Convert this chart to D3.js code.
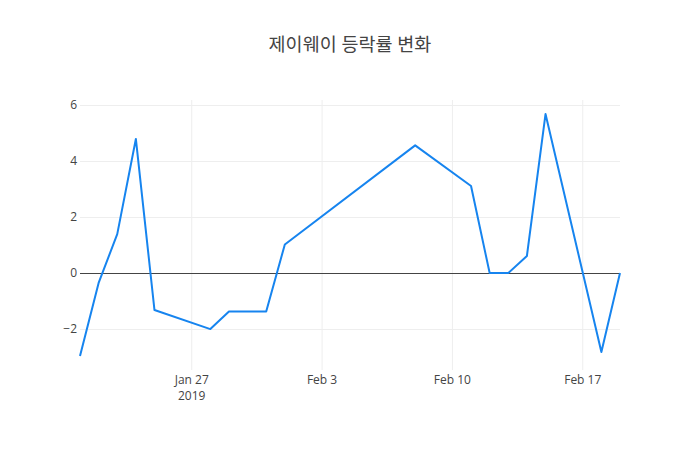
<!DOCTYPE html>
<html>
<head>
<meta charset="utf-8">
<script src="https://cdn.jsdelivr.net/npm/d3@7"></script>
<style>
    body { margin: 0; background: #fff; }
    text { font-family: "Open Sans", "Noto Sans CJK KR", sans-serif; }
</style>
</head>
<body>
<div id="chart"></div>
<script>
"use strict";

var dates = ["2019-01-21", "2019-01-22", "2019-01-23", "2019-01-24", "2019-01-25",
             "2019-01-28", "2019-01-29", "2019-01-31", "2019-02-01", "2019-02-08",
             "2019-02-11", "2019-02-12", "2019-02-13", "2019-02-14", "2019-02-15",
             "2019-02-18", "2019-02-19"],
    changes = [-2.96, -0.35, 1.39, 4.79, -1.32,
               -2.0, -1.37, -1.37, 1.02, 4.56,
               3.11, 0, 0, 0.61, 5.68,
               -2.82, 0],
    yTicks = [-2, 0, 2, 4, 6],
    xTicks = ["2019-01-27", "2019-02-03", "2019-02-10", "2019-02-17"],
    chartTitle = "제이웨이 등락률 변화";

var width = 700, height = 450,
    margin = {left: 80, right: 80, top: 100, bottom: 80},
    colors = {line: "#1684ef", grid: "#eeeeee", zero: "#444444", text: "#444444"};

var parse = d3.timeParse("%Y-%m-%d"),
    data = dates.map(function (d, i) { return {date: parse(d), val: changes[i]}; });

var svg = d3.select("#chart").append("svg")
    .attr("width", width)
    .attr("height", height);

var x = d3.scaleTime()
    .domain(d3.extent(data, function (d) { return d.date; }))
    .range([margin.left, width - margin.right]);

var ymin = d3.min(changes), ymax = d3.max(changes),
    pad = (ymax - ymin) * 0.058;
var y = d3.scaleLinear()
    .domain([ymin - pad, ymax + pad])
    .range([height - margin.bottom, margin.top]);

//grid lines
svg.append("g").selectAll("line.xg")
    .data(xTicks.map(parse))
    .enter().append("line")
    .attr("x1", function (d) { return x(d); })
    .attr("x2", function (d) { return x(d); })
    .attr("y1", margin.top)
    .attr("y2", height - margin.bottom)
    .attr("stroke", colors.grid)
    .attr("stroke-width", 1);

svg.append("g").selectAll("line.yg")
    .data(yTicks.filter(function (t) { return t !== 0; }))
    .enter().append("line")
    .attr("x1", margin.left)
    .attr("x2", width - margin.right)
    .attr("y1", function (d) { return Math.round(y(d)) + 0.5; })
    .attr("y2", function (d) { return Math.round(y(d)) + 0.5; })
    .attr("stroke", colors.grid)
    .attr("stroke-width", 1);

//zero line
svg.append("line")
    .attr("x1", margin.left)
    .attr("x2", width - margin.right)
    .attr("y1", Math.round(y(0)) + 0.5)
    .attr("y2", Math.round(y(0)) + 0.5)
    .attr("stroke", colors.zero)
    .attr("stroke-width", 1);

//y tick labels
svg.append("g").selectAll("text")
    .data(yTicks)
    .enter().append("text")
    .attr("x", margin.left - 3)
    .attr("y", function (d) { return y(d); })
    .attr("dy", "0.35em")
    .attr("text-anchor", "end")
    .attr("font-size", 12)
    .attr("fill", colors.text)
    .text(function (d) { return d < 0 ? "\u2212" + Math.abs(d) : d; });

//x tick labels
var fmt = d3.timeFormat("%b %-d");
var xl = svg.append("g").selectAll("text")
    .data(xTicks.map(parse))
    .enter().append("text")
    .attr("x", function (d) { return x(d); })
    .attr("y", height - margin.bottom + 14)
    .attr("text-anchor", "middle")
    .attr("font-size", 12)
    .attr("fill", colors.text);
xl.append("tspan")
    .attr("x", function (d) { return x(d); })
    .text(function (d) { return fmt(d); });
xl.filter(function (d, i) { return i === 0; })
    .append("tspan")
    .attr("x", function (d) { return x(d); })
    .attr("dy", 16)
    .text("2019");

//the series
var line = d3.line()
    .x(function (d) { return x(d.date); })
    .y(function (d) { return y(d.val); });

svg.append("path")
    .datum(data)
    .attr("d", line)
    .attr("fill", "none")
    .attr("stroke", colors.line)
    .attr("stroke-width", 2)
    .attr("stroke-linejoin", "round");

//title
svg.append("text")
    .attr("x", width / 2)
    .attr("y", 51)
    .attr("text-anchor", "middle")
    .attr("font-size", 18.5)
    .attr("fill", colors.text)
    .text(chartTitle);
</script>
</body>
</html>
